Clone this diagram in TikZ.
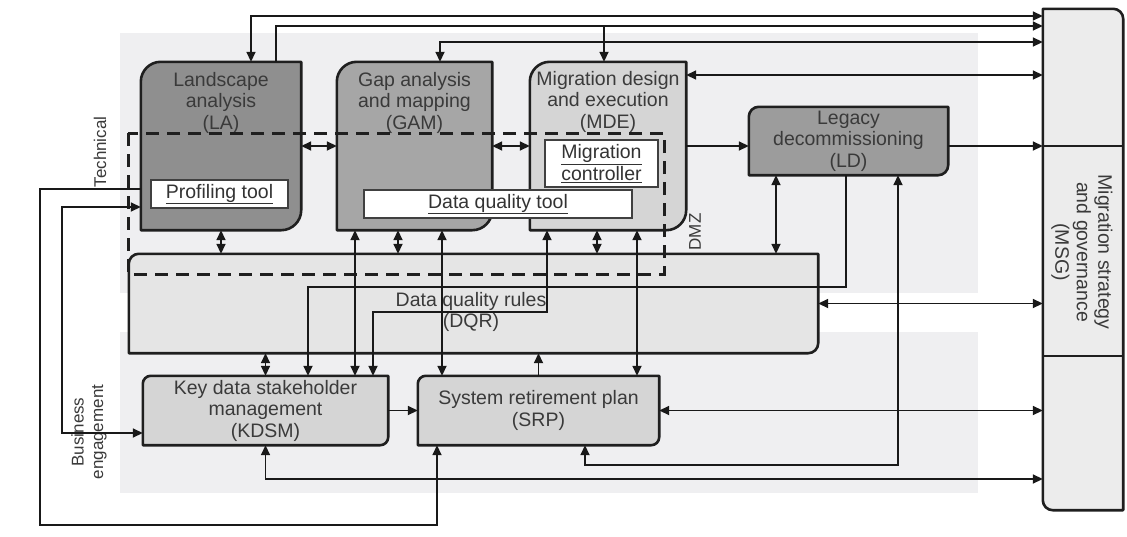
\documentclass[tikz,border=0pt]{standalone}
\usepackage{fontspec}
\setmainfont{Liberation Sans}
\usetikzlibrary{arrows.meta,positioning,calc}

\pgfdeclarelayer{back}
\pgfdeclarelayer{mid}
\pgfsetlayers{back,mid,main}

\definecolor{bandgray}{HTML}{EFEFF1}
\definecolor{lagray}{HTML}{8F8F8F}
\definecolor{gamgray}{HTML}{A6A6A6}
\definecolor{ldgray}{HTML}{9C9C9C}
\definecolor{lightbox}{HTML}{D5D5D5}
\definecolor{dqrgray}{HTML}{E5E5E5}
\definecolor{msggray}{HTML}{ECECEC}
\definecolor{txtgray}{HTML}{3A3A3A}

% outline with rounded top-left and bottom-right corners, drawn behind node #1
\newcommand{\cutbox}[3]{%
  \begin{pgfonlayer}{mid}
    \filldraw[boxline,fill=#3] (#1.south west) -- ([yshift=-#2]#1.north west)
      arc[start angle=180,end angle=90,radius=#2] -- (#1.north east)
      -- ([yshift=#2]#1.south east) arc[start angle=0,end angle=-90,radius=#2] -- cycle;
  \end{pgfonlayer}}

\begin{document}
\begin{tikzpicture}[x=1pt,y=1pt,>={Triangle[length=10pt,width=9pt]}]
    \tikzstyle{box}=[rectangle,draw=none,inner sep=0pt]
    \tikzstyle{boxline}=[draw=black!88,line width=2.6pt,line join=round]
    \tikzstyle{boxtext}=[font=\fontsize{19.5}{21.5}\selectfont,text=txtgray,align=center,inner sep=0pt]
    \tikzstyle{sidetext}=[font=\fontsize{17}{19.5}\selectfont,text=txtgray,align=center,inner sep=0pt,rotate=90]
    \tikzstyle{tool}=[rectangle,draw=black!75,line width=1.5pt,fill=white,inner sep=0pt,
                      font=\fontsize{19.5}{21.5}\selectfont,text=black!80,align=center]
    \tikzstyle{edge}=[draw=black!90,line width=1.7pt]

    \useasboundingbox (0,0) rectangle (1127,-536);

    % bands
    \begin{pgfonlayer}{back}
        \fill[bandgray] (120,-33) rectangle (978,-293);
        \fill[bandgray] (120,-332) rectangle (978,-493);
    \end{pgfonlayer}

    % lanes
    \coordinate (lane1) at (0,-16);
    \coordinate (lane2) at (0,-26);
    \coordinate (lane3) at (0,-42);
    \coordinate (lane4) at (0,-75);
    \coordinate (lane5) at (0,-146);
    \coordinate (lane6) at (0,-287);
    \coordinate (lane7) at (0,-465);
    \coordinate (lane9) at (0,-479);
    \coordinate (lane12) at (0,-312);
    \coordinate (loopa) at (40,-525);
    \coordinate (loopb) at (62,-207);

    % boxes
    \node [box,minimum width=160pt,minimum height=168pt] (la)   at (221,-146) {};
    \node [box,minimum width=155pt,minimum height=168pt] (gam)  at (414.5,-146) {};
    \node [box,minimum width=156pt,minimum height=168pt] (mde)  at (608,-146) {};
    \node [box,minimum width=199pt,minimum height=68pt]  (ld)   at (848.5,-141) {};
    \node [box,minimum width=689pt,minimum height=99pt]  (dqr)  at (473.5,-303.5) {};
    \node [box,minimum width=245pt,minimum height=69pt]  (kdsm) at (265.5,-410.5) {};
    \node [box,minimum width=241pt,minimum height=69pt]  (srp)  at (538.5,-410.5) {};
    \node [box,minimum width=80pt,minimum height=501pt]  (msg)  at (1083,-259.5) {};

    \cutbox{la}{20pt}{lagray}
    \cutbox{gam}{20pt}{gamgray}
    \cutbox{mde}{20pt}{lightbox}
    \cutbox{ld}{10pt}{ldgray}
    \cutbox{dqr}{10pt}{dqrgray}
    \cutbox{kdsm}{8pt}{lightbox}
    \cutbox{srp}{8pt}{lightbox}
    \begin{pgfonlayer}{mid}
        \filldraw[boxline,fill=msggray] (msg.north west) -- ([xshift=-10pt]msg.north east)
            arc[start angle=90,end angle=0,radius=10pt] -- (msg.south east)
            -- ([xshift=10pt]msg.south west) arc[start angle=270,end angle=180,radius=10pt] -- cycle;
        \draw[boxline] (msg.west |- lane5) -- (msg.east |- lane5);
        \draw[boxline] (msg.west |- 0,-356) -- (msg.east |- 0,-356);
    \end{pgfonlayer}

    % box texts
    \node [boxtext,below=10pt of la.north]  {Landscape\\analysis\\(LA)};
    \node [boxtext,below=10pt of gam.north] {Gap analysis\\and mapping\\(GAM)};
    \node [boxtext,below=9pt of mde.north]  {Migration design\\and execution\\(MDE)};
    \node [boxtext] at (ld)   {Legacy\\decommissioning\\(LD)};
    \node [boxtext] at (471,-312) {Data quality rules\\(DQR)};
    \node [boxtext] at (kdsm) {Key data stakeholder\\management\\(KDSM)};
    \node [boxtext] at (srp)  {System retirement plan\\(SRP)};
    \node [boxtext,rotate=-90] at (1082,-252) {Migration strategy\\and governance\\(MSG)};

    % tools
    \node [tool,minimum width=137pt,minimum height=28pt] (prof) at (219.5,-194) {\underline{Profiling tool}};
    \node [tool,minimum width=268pt,minimum height=28pt] (dqt)  at (498,-204) {\underline{Data quality tool}};
    \node [tool,minimum width=113pt,minimum height=47pt] (mctl) at (601.5,-163.5) {\underline{Migration}\\\underline{controller}};

    % side labels
    \node [sidetext] at (100,-152) {Technical};
    \node [sidetext] at (89,-432)  {Business\\engagement};
    \node [sidetext] at (695,-232) {DMZ};

    % dmz
    \draw[black!88,line width=3pt,dash pattern=on 13pt off 8pt] (128,-133) rectangle (664,-274);

    % connectors
    \path[edge,<->] ([xshift=30pt]la.north) |- (msg.west |- lane1);
    \path[edge,->] ([xshift=55pt]la.north) |- (msg.west |- lane2);
    \path[edge,->] ([xshift=-4pt]mde.north |- lane2) -- ([xshift=-4pt]mde.north);
    \path[edge,<->] ([xshift=25.5pt]gam.north) |- (msg.west |- lane3);
    \path[edge,<->] (mde.east |- lane4) -- (msg.west |- lane4);

    \path[edge,<->] (la.east) -- (gam.west);
    \path[edge,<->] (gam.east) -- (mde.west);
    \path[edge,->] (mde.east) -- (mde.east -| ld.west);
    \path[edge,->] (ld.east |- lane5) -- (msg.west |- lane5);

    \path[edge,<->] ([xshift=-72.5pt]ld.south) -- ([xshift=-72.5pt]ld.south |- dqr.north);
    \path[edge,->] ([xshift=-2.5pt]ld.south) |- ([xshift=42.5pt]kdsm.north |- lane6) -- ([xshift=42.5pt]kdsm.north);
    \path[edge,<->] ([xshift=46.5pt]srp.south) |- ([xshift=49.5pt]ld.south |- lane7) -- ([xshift=49.5pt]ld.south);

    \path[edge,<->] (dqr.east) -- (dqr.east -| msg.west);
    \path[edge,<->] (srp.east) -- (srp.east -| msg.west);
    \path[edge,<->] (kdsm.south) |- (msg.west |- lane9);

    \path[edge,->] ([yshift=-43pt]la.west) -| (loopa) -| ([xshift=-101.5pt]srp.south);
    \path[edge,<->] ([yshift=-22.5pt]kdsm.west) -| (loopb) -- ([yshift=-61pt]la.west);

    \path[edge,<->] (la.south) -- (la.south |- dqr.north);
    \path[edge,<->] ([xshift=-16.5pt]gam.south) -- ([xshift=-16.5pt]gam.south |- dqr.north);
    \path[edge,<->] ([xshift=-11pt]mde.south) -- ([xshift=-11pt]mde.south |- dqr.north);
    \path[edge,<->] (kdsm.north) -- (kdsm.north |- dqr.south);
    \path[edge,->] (srp.north) -- (srp.north |- dqr.south);

    \path[edge,<->] ([xshift=-59.5pt]gam.south) -- ([xshift=-59.5pt]gam.south |- kdsm.north);
    \path[edge,<->] ([xshift=27.5pt]gam.south) -- ([xshift=27.5pt]gam.south |- srp.north);
    \path[edge,<->] ([xshift=-61pt]mde.south) |- ([xshift=107.5pt]kdsm.north |- lane12) -- ([xshift=107.5pt]kdsm.north);
    \path[edge,<->] ([xshift=29pt]mde.south) -- ([xshift=29pt]mde.south |- srp.north);

    \path[edge,->] (kdsm.east) -- (srp.west);
\end{tikzpicture}
\end{document}
